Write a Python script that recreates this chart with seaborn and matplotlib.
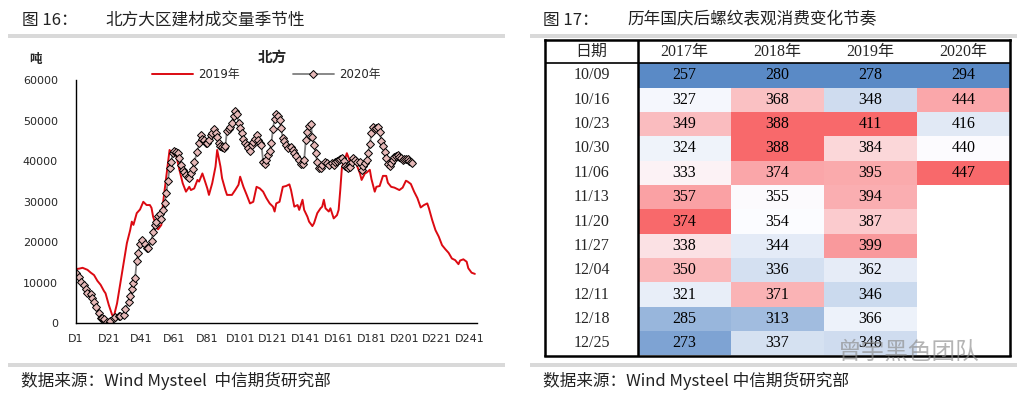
import numpy as np
import pandas as pd
import matplotlib
matplotlib.use('Agg')
import matplotlib.pyplot as plt
from matplotlib.colors import LinearSegmentedColormap
import seaborn as sns

# 北方大区建材成交量 (吨), day index D1..
days_2019 = [1, 3, 5, 8, 10, 12, 14, 16, 18, 19, 21, 23, 24, 26, 28, 30, 32, 34, 35, 36,
             38, 40, 42, 44, 46, 47, 48, 50, 51, 53, 54, 56, 58, 59, 60, 62, 64, 66, 68, 70,
             71, 73, 75, 76, 78, 79, 81, 82, 84, 86, 87, 89, 90, 92, 93, 96, 98, 100, 101, 103,
             105, 107, 109, 111, 113, 115, 117, 119, 121, 122, 123, 125, 127, 129, 131, 132, 134, 136, 137, 139,
             140, 142, 143, 145, 146, 148, 150, 151, 152, 153, 155, 156, 158, 160, 161, 162, 163, 165, 166, 168,
             170, 172, 174, 175, 177, 178, 180, 181, 183, 184, 186, 188, 190, 191, 193, 195, 198, 200, 202, 203,
             205, 207, 209, 211, 213, 215, 216, 218, 220, 222, 224, 226, 228, 230, 232, 234, 235, 237, 239, 240,
             242, 244]
vol_2019 = [13400, 13500, 13700, 13200, 12500, 11900, 10500, 9500, 8000, 7400, 4500, 2100, 1600, 4900, 9900, 14800, 19800, 23000, 25100, 24300,
            27200, 28100, 30000, 29200, 29200, 28500, 26300, 23900, 23200, 24300, 29600, 36200, 42800, 42000, 42400, 41600, 37900, 34600, 32500, 33700,
            32900, 33300, 35400, 35000, 37000, 35800, 33300, 31700, 34600, 38700, 42800, 38700, 35800, 32900, 31700, 31700, 32900, 34200, 36200, 33700,
            31700, 29600, 30000, 33700, 33300, 32500, 30900, 29600, 28800, 27600, 29600, 30000, 33700, 33900, 34300, 32900, 28800, 29200, 28000, 30500,
            28000, 26300, 25100, 24000, 24700, 27200, 28400, 28800, 30500, 28400, 27600, 28400, 25900, 26700, 28000, 32900, 38500, 40700, 42000, 39900,
            40300, 39100, 37000, 35400, 37000, 37200, 37900, 35600, 32500, 33700, 33900, 36400, 36400, 34700, 33700, 33500, 32900, 33500, 35200, 35000,
            34400, 32500, 30900, 28600, 29200, 29600, 28400, 25500, 23000, 21400, 19300, 18300, 17400, 16000, 15600, 14600, 15500, 15800, 15200, 13600,
            12500, 12200]

days_2020 = [1, 3, 4, 6, 7, 8, 10, 11, 12, 13, 15, 16, 17, 18, 20, 21, 22, 24, 25, 27,
             28, 30, 31, 33, 34, 35, 36, 37, 38, 39, 40, 41, 43, 44, 45, 47, 48, 49, 50, 51,
             52, 53, 54, 55, 56, 57, 58, 59, 60, 61, 62, 63, 64, 65, 66, 67, 68, 69, 70, 71,
             72, 73, 75, 76, 77, 78, 79, 80, 81, 82, 83, 84, 85, 86, 87, 88, 89, 90, 91, 92,
             93, 94, 95, 96, 97, 98, 99, 100, 101, 102, 103, 104, 105, 106, 107, 108, 109, 110, 111, 112,
             113, 114, 115, 116, 117, 118, 119, 120, 121, 122, 123, 124, 125, 126, 127, 128, 129, 130, 132, 133,
             134, 135, 137, 138, 139, 140, 141, 142, 143, 144, 145, 146, 147, 148, 149, 150, 151, 153, 154, 155,
             157, 158, 159, 160, 161, 162, 163, 164, 165, 166, 167, 168, 169, 170, 171, 172, 174, 175, 176, 177,
             178, 179, 180, 181, 182, 183, 184, 185, 186, 187, 188, 189, 190, 191, 192, 193, 194, 195, 196, 197,
             198, 199, 200, 201, 202, 203, 204, 205, 206]
vol_2020 = [12500, 11500, 10300, 9500, 8400, 7600, 7200, 6200, 5200, 4000, 2600, 1200, 1200, 1000, 400, 0, 600, 1400, 1600, 1900,
            1800, 2100, 3500, 5300, 6700, 8400, 10000, 11100, 15500, 17300, 19600, 20600, 19600, 18500, 18500, 20400, 22600, 24300, 25100, 26500,
            27000, 25700, 28000, 29800, 32100, 35200, 38300, 39900, 42000, 42600, 42300, 42000, 40700, 39100, 37900, 37400, 36600, 36200, 36000, 37000,
            38000, 39900, 42400, 44400, 46500, 45500, 45300, 44400, 44600, 45300, 46500, 46900, 47900, 47100, 46100, 44400, 43800, 43500, 43200, 43800,
            47600, 47900, 48500, 49400, 51200, 52300, 51800, 49400, 48100, 47100, 45400, 44500, 44000, 43200, 42600, 44000, 44800, 45400, 46500, 45300,
            44500, 44000, 39900, 39300, 40300, 41600, 42500, 44400, 48000, 50500, 51700, 51200, 50200, 48100, 45700, 44900, 44000, 43200, 43600, 42800,
            42000, 41200, 40300, 39300, 39300, 40200, 45300, 47300, 48600, 49200, 46100, 44000, 42000, 39900, 38300, 38300, 39100, 39900, 39700, 39100,
            39500, 39100, 39900, 40100, 40300, 40500, 40700, 40100, 38800, 38500, 38300, 38500, 39900, 40700, 40300, 39900, 39900, 37900, 38800, 39500,
            40300, 42100, 44300, 46900, 48400, 47900, 48100, 48400, 47300, 45100, 43800, 42400, 40700, 39300, 38800, 39500, 40300, 41000, 41300, 41500,
            41000, 40700, 40300, 40600, 40500, 40500, 40000, 39800, 39500]

day_ticks = [1, 21, 41, 61, 81, 101, 121, 141, 161, 181, 201, 221, 241]

# 历年国庆后螺纹表观消费 (万吨)
dates = ['10/09', '10/16', '10/23', '10/30', '11/06', '11/13', '11/20', '11/27', '12/04', '12/11', '12/18', '12/25']
years = ['2017年', '2018年', '2019年', '2020年']
v2017 = [257, 327, 349, 324, 333, 357, 374, 338, 350, 321, 285, 273]
v2018 = [280, 368, 388, 388, 374, 355, 354, 344, 336, 371, 313, 337]
v2019 = [278, 348, 411, 384, 395, 394, 387, 399, 362, 346, 366, 348]
v2020 = [294, 444, 416, 440, 447] + [np.nan] * 7

W, H = 1017, 399
sns.set_style('white')
plt.rcParams['font.family'] = ['DejaVu Sans', 'Noto Sans CJK SC']
cjk = ['Noto Sans CJK SC', 'DejaVu Sans']
serif = ['Liberation Serif', 'Noto Sans CJK SC']

fig = plt.figure(figsize=(W / 100, H / 100), dpi=100)


def fx(px):
    return px / W


def fy(py):
    return 1 - py / H


# grey separator bars and captions
for x0, x1 in [(8, 505), (530, 1017)]:
    for yb in [34, 363]:
        fig.add_artist(plt.Rectangle((fx(x0), fy(yb + 3.5)), fx(x1 - x0), 3.5 / H,
                                     transform=fig.transFigure, color='#d9d9d9', lw=0))

fig.text(fx(22), fy(20), '图 16：', fontsize=12, family=cjk, va='center', color='#222222')
fig.text(fx(105), fy(20), '北方大区建材成交量季节性', fontsize=12, family=cjk, va='center', color='#222222')
fig.text(fx(543), fy(20), '图 17：', fontsize=12, family=cjk, va='center', color='#222222')
fig.text(fx(627), fy(20), '历年国庆后螺纹表观消费变化节奏', fontsize=12, family=cjk, va='center', color='#222222')
fig.text(fx(21), fy(381), '数据来源：Wind Mysteel  中信期货研究部', fontsize=12, family=cjk, va='center', color='#222222')
fig.text(fx(543), fy(381), '数据来源：Wind Mysteel 中信期货研究部', fontsize=12, family=cjk, va='center', color='#222222')

# ---- left: seasonal line chart ----
ax1 = fig.add_axes([fx(76), fy(323.3), fx(401), 243 / H])
sns.lineplot(x=days_2019, y=vol_2019, ax=ax1, color='#dc0a12', lw=1.4, label='2019年')
sns.lineplot(x=days_2020, y=vol_2020, ax=ax1, color='#7f7f7f', lw=1.3, marker='D', markersize=4,
             markerfacecolor='#e6b9b8', markeredgecolor='black', markeredgewidth=0.7, label='2020年')
ax1.set_xlim(1, 245.3)
ax1.set_ylim(0, 60000)
ax1.set_yticks(range(0, 60001, 10000))
ax1.set_xticks(day_ticks)
ax1.set_xticklabels(['D%d' % d for d in day_ticks])
ax1.tick_params(axis='y', direction='in', length=4, width=1, pad=13, labelsize=8)
ax1.tick_params(axis='x', direction='in', length=4, width=1, pad=8, labelsize=8)
sns.despine(ax=ax1)
for s in ['left', 'bottom']:
    ax1.spines[s].set_color('black')
    ax1.spines[s].set_linewidth(1)
ax1.set_xlabel('')
ax1.set_ylabel('')
ax1.legend(loc='center', bbox_to_anchor=(0.474, 1.025), ncol=2, frameon=False, fontsize=8.5,
           handlelength=3.5, columnspacing=4.5, handletextpad=0.4)
fig.text(fx(272), fy(57), '北方', fontsize=10.5, weight='bold', ha='center', va='center', family=cjk)
fig.text(fx(35), fy(60), '吨', fontsize=9, weight='bold', ha='center', va='center', family=cjk)

# ---- right: table heatmap, each column coloured on its own scale ----
tab = pd.DataFrame({'2017年': v2017, '2018年': v2018, '2019年': v2019, '2020年': v2020}, index=dates)
norm = tab.copy()
for c in tab.columns:
    col = tab[c]
    mid = col.median()
    lo, hi = col.min(), col.max()
    norm[c] = np.where(col <= mid, (col - mid) / (mid - lo), (col - mid) / (hi - mid))
annot = tab.map(lambda v: '' if pd.isna(v) else '%d' % v).values

cmap = LinearSegmentedColormap.from_list('excel3', ['#5a8ac6', '#fcfcff', '#f8696b'])
ax2 = fig.add_axes([fx(545), fy(355.5), fx(465), 315.5 / H])
sns.heatmap(norm, cmap=cmap, vmin=-1, vmax=1, annot=annot, fmt='', cbar=False, ax=ax2,
            xticklabels=False, yticklabels=False,
            annot_kws=dict(color='black', fontsize=11.5, family=serif))
ax2.set_xlim(-1, 4)
ax2.set_ylim(12, -0.95)
for j, y in enumerate(years):
    ax2.text(j + 0.5, -0.47, y, ha='center', va='center', fontsize=11.5, family=serif)
ax2.text(-0.5, -0.47, '日期', ha='center', va='center', fontsize=11.5, family=cjk)
for i, d in enumerate(dates):
    ax2.text(-0.5, i + 0.5, d, ha='center', va='center', fontsize=11.5, family=serif)
ax2.axvline(0, color='black', lw=1.8)
ax2.axhline(0, color='black', lw=1.2)
for s in ax2.spines.values():
    s.set_visible(True)
    s.set_color('black')
    s.set_linewidth(1.8)
ax2.set_xlabel('')
ax2.set_ylabel('')

# watermark
fig.text(fx(909), fy(352), '曾宇黑色团队', fontsize=17, color='#8c8c8c', alpha=0.65,
         ha='center', va='center', family=cjk)

fig.savefig('out.png', dpi=100)
